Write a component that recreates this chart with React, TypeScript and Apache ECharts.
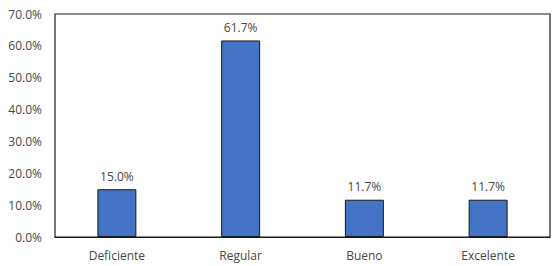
import React, { useEffect, useRef } from "react";
import * as echarts from "echarts";

const categories = ["Deficiente", "Regular", "Bueno", "Excelente"];
const values = [15.0, 61.7, 11.7, 11.7];
const yTicks = [0, 10, 20, 30, 40, 50, 60, 70];

export default function App() {
  const ref = useRef<HTMLDivElement>(null);
  useEffect(() => {
    document.body.style.margin = "0";
    const chart = echarts.init(ref.current!, null, { renderer: "svg" });
    const font = "Open Sans";
    chart.setOption({
      animation: false,
      backgroundColor: "#ffffff",
      grid: {
        left: 55,
        right: 8,
        top: 14,
        bottom: 29,
        show: true,
        borderColor: "#1a1a1a",
        borderWidth: 1.2,
        backgroundColor: "transparent",
      },
      xAxis: {
        type: "category",
        data: categories,
        axisLine: { show: true, lineStyle: { color: "#1a1a1a", width: 1.2 } },
        axisTick: { show: false },
        axisLabel: {
          color: "#474747",
          fontFamily: font,
          fontSize: 12,
          margin: 12,
        },
      },
      yAxis: {
        type: "value",
        min: yTicks[0],
        max: yTicks[yTicks.length - 1],
        interval: 10,
        splitLine: { show: false },
        axisLine: { show: false },
        axisTick: { show: false },
        axisLabel: {
          color: "#474747",
          fontFamily: font,
          fontSize: 12,
          margin: 13,
          formatter: (v: number) => v.toFixed(1) + "%",
        },
      },
      series: [
        {
          type: "bar",
          data: values,
          barWidth: "31.5%",
          itemStyle: { color: "#4472C4", borderColor: "#1a1a1a", borderWidth: 1 },
          label: {
            show: true,
            position: "top",
            distance: 7,
            color: "#474747",
            fontFamily: font,
            fontSize: 12,
            formatter: (p: any) => p.value.toFixed(1) + "%",
          },
        },
      ],
    });
    return () => chart.dispose();
  }, []);
  return <div ref={ref} style={{ width: 558, height: 266 }} />;
}
